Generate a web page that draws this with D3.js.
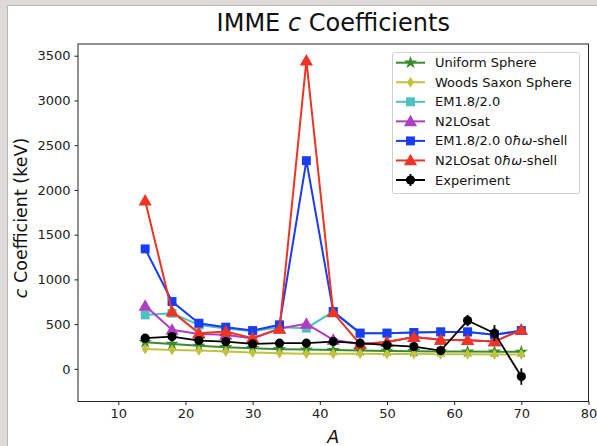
<!DOCTYPE html>
<html>
<head>
<meta charset="utf-8">
<script src="https://cdn.jsdelivr.net/npm/d3@7"></script>
<style>
  html, body { margin: 0; padding: 0; background: #dedad8; }
  svg { display: block; font-family: "DejaVu Sans", sans-serif; }
</style>
</head>
<body>
<svg id="chart" width="597" height="446"></svg>
<script>
// mass numbers A
const massNumbers = [14, 18, 22, 26, 30, 34, 38, 42, 46, 50, 54, 58, 62, 66, 70];

// c coefficients (keV) per model
const uniformSphere = [298, 279, 257, 242, 231, 220, 215, 210, 205, 200, 197, 195, 193, 191, 190];
const woodsSaxon    = [223, 212, 205, 194, 182, 175, 170, 168, 168, 166, 165, 163, 162, 160, 160];
const em18          = [603, 622, 490, 450, 420, 465, 455, 640, 399, 399, 406, 413, 413, 380, 428];
const n2losat       = [704, 436, 390, 380, 340, 450, 503, 324, 275, 300, 355, 324, 320, 305, 436];
const em18Shell     = [1341, 752, 510, 466, 428, 492, 2327, 640, 399, 399, 406, 413, 413, 380, 428];
const n2losatShell  = [1880, 640, 399, 417, 343, 447, 3445, 629, 275, 300, 355, 324, 320, 305, 436];
const experiment    = [343, 361, 316, 305, 279, 287, 287, 305, 287, 265, 249, 204, 540, 399, -86];
const experimentErr = [12, 12, 12, 12, 12, 12, 12, 12, 12, 15, 15, 20, 63, 90, 92];

const xTicks = [10, 20, 30, 40, 50, 60, 70, 80];
const yTicks = [0, 500, 1000, 1500, 2000, 2500, 3000, 3500];

const series = [
  { name: 'Uniform Sphere', values: uniformSphere, color: '#3b8a2e', marker: 'star', size: 55 },
  { name: 'Woods Saxon Sphere', values: woodsSaxon, color: '#c2c23e', marker: 'diamond', size: 0 },
  { name: 'EM1.8/2.0', values: em18, color: '#4fc0c0', marker: 'square', size: 80 },
  { name: 'N2LOsat', values: n2losat, color: '#ad3fc0', marker: 'triangle', size: 75 },
  { name: 'EM1.8/2.0 0ħω-shell', values: em18Shell, color: '#1a3cf2', marker: 'square', size: 80, shell: 'EM1.8/2.0 0' },
  { name: 'N2LOsat 0ħω-shell', values: n2losatShell, color: '#ee3424', marker: 'triangle', size: 75, shell: 'N2LOsat 0' }
];

const svg = d3.select('#chart');

// white figure area with the grey frame around it
svg.append('rect')
  .attr('x', 7.5).attr('y', 5.5)
  .attr('width', 600).attr('height', 450)
  .attr('fill', '#fff')
  .attr('stroke', '#b9b6b4');

const margin = { top: 44, right: 8.5, bottom: 44.5, left: 78 };
const width = 597 - margin.left - margin.right;
const height = 446 - margin.top - margin.bottom;

const g = svg.append('g')
  .attr('transform', `translate(${margin.left}, ${margin.top})`);

const x = d3.scaleLinear().domain([4, 80]).range([0, width]);
const y = d3.scaleLinear().domain([-365, 3631]).range([height, 0]);

// Axes
const xAxis = g.append('g')
  .attr('transform', `translate(0, ${height})`)
  .call(d3.axisBottom(x).tickValues(xTicks).tickSize(3.5).tickPadding(4).tickFormat(d3.format('d')));
const yAxis = g.append('g')
  .call(d3.axisLeft(y).tickValues(yTicks).tickSize(3.5).tickPadding(4).tickFormat(d3.format('d')));
[xAxis, yAxis].forEach(a => {
  a.select('.domain').remove();
  a.selectAll('text').style('font-size', '13px').style('font-family', 'DejaVu Sans').attr('fill', '#222');
  a.selectAll('line').attr('stroke', '#222');
});

// Frame
g.append('rect')
  .attr('width', width).attr('height', height)
  .attr('fill', 'none')
  .attr('stroke', '#222')
  .attr('stroke-width', 1);

const marks = g.append('g');

function markerPath(type, size) {
  if (type === 'diamond') return 'M0,-5.5L3.4,0L0,5.5L-3.4,0Z';
  const sym = { star: d3.symbolStar, square: d3.symbolSquare, triangle: d3.symbolTriangle }[type];
  return d3.symbol(sym, size)();
}

const line = d3.line()
  .x((d, i) => x(massNumbers[i]))
  .y(d => y(d));

series.forEach(s => {
  marks.append('path')
    .datum(s.values)
    .attr('fill', 'none')
    .attr('stroke', s.color)
    .attr('stroke-width', 2)
    .attr('d', line);
  marks.selectAll(null)
    .data(s.values)
    .enter()
    .append('path')
    .attr('transform', (d, i) => `translate(${x(massNumbers[i])}, ${y(d) + (s.marker === 'triangle' ? 1 : 0)})`)
    .attr('d', markerPath(s.marker, s.size))
    .attr('fill', s.color);
});

// Experiment with error bars
marks.append('path')
  .datum(experiment)
  .attr('fill', 'none')
  .attr('stroke', '#000')
  .attr('stroke-width', 1.8)
  .attr('d', line);
marks.selectAll('.err')
  .data(experiment)
  .enter()
  .append('line')
  .attr('x1', (d, i) => x(massNumbers[i]))
  .attr('x2', (d, i) => x(massNumbers[i]))
  .attr('y1', (d, i) => y(d - experimentErr[i]))
  .attr('y2', (d, i) => y(d + experimentErr[i]))
  .attr('stroke', '#000')
  .attr('stroke-width', 1.8);
marks.selectAll('.pt')
  .data(experiment)
  .enter()
  .append('circle')
  .attr('cx', (d, i) => x(massNumbers[i]))
  .attr('cy', d => y(d))
  .attr('r', 4.6)
  .attr('fill', '#000');

// Title
const title = svg.append('text')
  .attr('x', margin.left + width / 2)
  .attr('y', 31)
  .attr('text-anchor', 'middle')
  .style('font-size', '24px')
  .attr('fill', '#111');
title.append('tspan').text('IMME ');
title.append('tspan').attr('font-style', 'italic').text('c');
title.append('tspan').text(' Coefficients');

// Axis labels
const yLabel = svg.append('text')
  .attr('transform', 'translate(27, 218) rotate(-90)')
  .attr('text-anchor', 'middle')
  .style('font-size', '17.5px')
  .attr('fill', '#111');
yLabel.append('tspan').attr('font-style', 'italic').text('c');
yLabel.append('tspan').text(' Coefficient (keV)');

svg.append('text')
  .attr('x', margin.left + x(42))
  .attr('y', 443)
  .attr('text-anchor', 'middle')
  .attr('font-style', 'italic')
  .style('font-size', '17.5px')
  .attr('fill', '#111')
  .text('A');

// Legend
const legend = svg.append('g').attr('transform', 'translate(392, 52)');
legend.append('rect')
  .attr('x', 0.5).attr('y', 0.5)
  .attr('width', 187).attr('height', 141)
  .attr('rx', 2)
  .attr('fill', '#fff')
  .attr('stroke', '#d0d0d0');

const legendItems = series.concat([{ name: 'Experiment', color: '#000', marker: 'circle' }]);
legendItems.forEach((s, i) => {
  const row = legend.append('g').attr('transform', `translate(0, ${10.7 + i * 19.55})`);
  row.append('line')
    .attr('x1', 4).attr('x2', 33)
    .attr('stroke', s.color)
    .attr('stroke-width', 2);
  if (s.marker === 'circle') {
    row.append('line').attr('x1', 18.5).attr('x2', 18.5).attr('y1', -6).attr('y2', 6)
      .attr('stroke', '#000').attr('stroke-width', 1.8);
    row.append('circle').attr('cx', 18.5).attr('r', 4.6).attr('fill', '#000');
  } else {
    row.append('path')
      .attr('transform', `translate(18.5, ${s.marker === 'triangle' ? 1 : 0})`)
      .attr('d', markerPath(s.marker, s.size))
      .attr('fill', s.color);
  }
  const t = row.append('text')
    .attr('x', 43)
    .attr('dy', '0.35em')
    .style('font-size', '13px')
    .attr('fill', '#111');
  if (s.shell) {
    t.append('tspan').text(s.shell);
    t.append('tspan').attr('font-style', 'italic').text('ħω');
    t.append('tspan').text('-shell');
  } else {
    t.text(s.name);
  }
});
</script>
</body>
</html>
